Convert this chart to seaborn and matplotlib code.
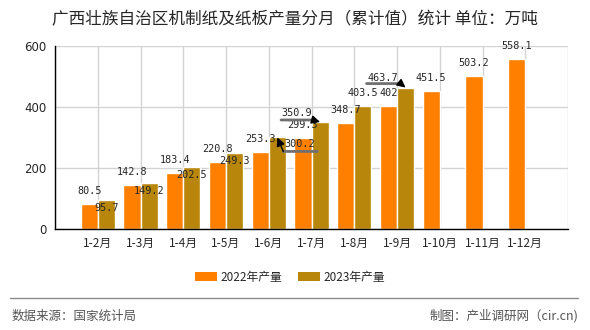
import numpy as np
import pandas as pd
import matplotlib
matplotlib.use("Agg")
import matplotlib.pyplot as plt
import matplotlib.transforms as mtransforms
from matplotlib.patches import Patch
import seaborn as sns

categories = ["1-2月", "1-3月", "1-4月", "1-5月", "1-6月", "1-7月",
              "1-8月", "1-9月", "1-10月", "1-11月", "1-12月"]
values_2022 = [80.5, 142.8, 183.4, 220.8, 253.3, 299.3, 348.7, 402, 451.5, 503.2, 558.1]
values_2023 = [95.7, 149.2, 202.5, 249.3, 300.2, 350.9, 403.5, 463.7, None, None, None]
series_names = ["2022年产量", "2023年产量"]
colors = ["#FF8000", "#B8860B"]
y_ticks = [0, 200, 400, 600]

title = "广西壮族自治区机制纸及纸板产量分月（累计值）统计 单位：万吨"
source_left = "数据来源：国家统计局"
source_right = "制图：产业调研网（cir.cn)"

rows = []
for c, a, b in zip(categories, values_2022, values_2023):
    rows.append({"月份": c, "产量": a, "系列": series_names[0]})
    rows.append({"月份": c, "产量": np.nan if b is None else b, "系列": series_names[1]})
df = pd.DataFrame(rows)

sns.set_style("white")
CJK = ["Noto Sans CJK SC", "DejaVu Sans"]
plt.rcParams["font.family"] = CJK

fig = plt.figure(figsize=(5.9, 3.3), dpi=100)
ax = fig.add_axes([55 / 590, 1 - 229 / 330, (568 - 55) / 590, (229 - 46) / 330])

sns.barplot(data=df, x="月份", y="产量", hue="系列", order=categories,
            hue_order=series_names, palette=colors, width=0.8,
            saturation=1, ax=ax, legend=False, errorbar=None)

ax.set_xlim(-1, len(categories))
ax.set_ylim(0, 600)
ax.set_yticks(y_ticks)
ax.set_yticklabels([str(t) for t in y_ticks], fontsize=8.5, family=["DejaVu Sans"])
ax.set_xticks(range(-1, len(categories) + 1))
ax.set_xticklabels([""] + categories + [""], fontsize=8.5)
ax.set_xlabel("")
ax.set_ylabel("")
ax.grid(True, color="#d3d3d3", linewidth=1)
ax.set_axisbelow(True)
for s in ["top", "right"]:
    ax.spines[s].set_visible(False)
for s in ["left", "bottom"]:
    ax.spines[s].set_color("black")
    ax.spines[s].set_linewidth(1)
ax.tick_params(axis="both", direction="out", length=4, width=1, color="black", pad=2)

mono = "DejaVu Sans Mono"
lfs = 7.3

# label offsets (pixels, relative to bar top center) for the crowded 2023 labels
special = {
    4: dict(text=(22, -7), line=((6, -14), (40, -14)), arrow=(6, -14)),
    5: dict(text=(-23, 9), line=((-39, 2), (-7, 2)), arrow=(-7, 2)),
    7: dict(text=(-23, 10), line=((-39, 4), (-5, 4)), arrow=(-5, 4)),
}

for si, cont in enumerate(ax.containers):
    for bar in cont:
        h = bar.get_height()
        if h is None or np.isnan(h) or h == 0:
            continue
        bx = bar.get_x() + bar.get_width() / 2
        ci = int(round(bx))
        lbl = f"{h:.1f}"
        if lbl.endswith(".0"):
            lbl = lbl[:-2]
        if si == 0 or ci == 6:
            ax.annotate(lbl, (bx, h), xytext=(0, 13), textcoords="offset pixels",
                        ha="center", va="center", fontsize=lfs, family=mono)
        elif ci in special:
            sp = special[ci]
            ax.annotate(lbl, (bx, h), xytext=sp["text"], textcoords="offset pixels",
                        ha="center", va="center", fontsize=lfs, family=mono)
            (x1, y1), (x2, y2) = sp["line"]
            tr = mtransforms.offset_copy(ax.transData, fig=fig, x=x1, y=y1, units="dots")
            ax.annotate("", xy=(bx, h), xycoords=tr, xytext=(x2 - x1, y2 - y1),
                        textcoords="offset pixels",
                        arrowprops=dict(arrowstyle="-", color="#707070", lw=2,
                                        shrinkA=0, shrinkB=0))
            ax.annotate("", xy=(bx, h), xytext=sp["arrow"], textcoords="offset pixels",
                        arrowprops=dict(arrowstyle="-|>,head_length=0.5,head_width=0.25",
                                        color="black", lw=1, shrinkA=0, shrinkB=0))
        else:
            ax.annotate(lbl, (bx, h), xytext=(0, -8), textcoords="offset pixels",
                        ha="center", va="center", fontsize=lfs, family=mono)

fig.text(0.5, 1 - 20 / 330, title, ha="center", va="center", fontsize=12, family=CJK)

handles = [Patch(facecolor=c, edgecolor="none") for c in colors]
fig.legend(handles, series_names, loc="center", bbox_to_anchor=(290 / 590, 1 - 277 / 330),
           ncol=2, frameon=False, fontsize=8.5, handlelength=1.9, handleheight=0.7,
           handletextpad=0.3, columnspacing=1.3)

fig.add_artist(plt.Line2D([10 / 590, 578 / 590], [1 - 298 / 330, 1 - 298 / 330],
                          transform=fig.transFigure, color="#8c8c8c", lw=1))
fig.text(12 / 590, 1 - 316 / 330, source_left, ha="left", va="center",
         fontsize=9, color="#555555", family=CJK)
fig.text(578 / 590, 1 - 316 / 330, source_right, ha="right", va="center",
         fontsize=9, color="#555555", family=CJK)

fig.savefig("out.png", dpi=100)
